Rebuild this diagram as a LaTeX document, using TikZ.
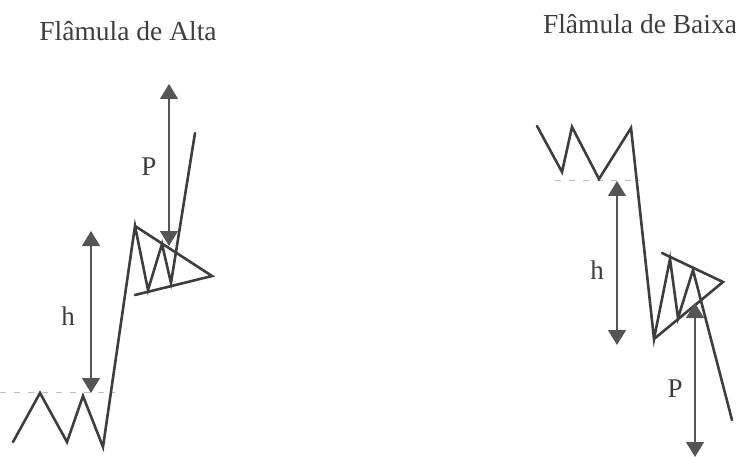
\documentclass[tikz,border=0pt]{standalone}
\usepackage{fontspec}
\setmainfont{Liberation Serif}
\usetikzlibrary{arrows.meta}
\definecolor{ink}{HTML}{3E3E3E}
\definecolor{arr}{HTML}{555555}
\definecolor{dash}{HTML}{B8BEC4}
\tikzset{
  price/.style={draw=ink,line width=2.6pt,line join=miter,line cap=round},
  meas/.style={draw=arr,line width=1.3pt,{Triangle[length=15pt,width=18pt]}-{Triangle[length=15pt,width=18pt]}},
  refline/.style={draw=dash,line width=1pt,dash pattern=on 6pt off 8pt},
  lbl/.style={text=ink,font=\fontsize{27}{30}\selectfont,inner sep=0pt},
  ttl/.style={text=ink,font=\fontsize{27.5}{30}\selectfont,inner sep=0pt}
}
\begin{document}
\begin{tikzpicture}[x=1pt,y=-1pt]
\useasboundingbox (0,0) rectangle (736,457);
% titles
\node[ttl] (t1) at (128,31) {Flâmula de Alta};
\node[ttl] (t2) at (640,24) {Flâmula de Baixa};
% ---------- left: Flâmula de Alta ----------
\draw[refline] (0,392) -- (115,392);
\coordinate (a1) at (13,442);
\coordinate (a2) at (40,393);
\coordinate (a3) at (67,442);
\coordinate (a4) at (83,396);
\coordinate (a5) at (103,447);
\coordinate (a6) at (135,226);
\coordinate (a7) at (148,290);
\coordinate (a8) at (162,244);
\coordinate (a9) at (171,283);
\coordinate (a10) at (195,133);
\coordinate (ta) at (212,276);
\coordinate (tb) at (135,295);
\draw[price] (a1) -- (a2) -- (a3) -- (a4) -- (a5) -- (a6) -- (a7) -- (a8) -- (a9) -- (a10);
\draw[price] (a6) -- (ta) -- (tb);
\coordinate (h1t) at (91,231);
\coordinate (h1b) at (91,393);
\draw[meas] (h1t) -- (h1b);
\node[lbl] (hL) at (68,316) {h};
\coordinate (p1t) at (169,84);
\coordinate (p1b) at (169,246);
\draw[meas] (p1t) -- (p1b);
\node[lbl] (pL) at (149,167) {P};
% ---------- right: Flâmula de Baixa ----------
\draw[refline] (555,181) -- (640,181);
\coordinate (b1) at (537,126);
\coordinate (b2) at (562,172);
\coordinate (b3) at (572,127);
\coordinate (b4) at (599,179);
\coordinate (b5) at (631,128);
\coordinate (b6) at (654,339);
\coordinate (b7) at (670,259);
\coordinate (b8) at (678,318);
\coordinate (b9) at (693,270);
\coordinate (b10) at (732,420);
\coordinate (tc) at (662,253);
\coordinate (td) at (723,282);
\draw[price] (b1) -- (b2) -- (b3) -- (b4) -- (b5) -- (b6) -- (b7) -- (b8) -- (b9) -- (b10);
\draw[price] (tc) -- (td) -- (b6);
\coordinate (h2t) at (617,181);
\coordinate (h2b) at (617,345);
\draw[meas] (h2t) -- (h2b);
\node[lbl] (hR) at (597,270) {h};
\coordinate (p2t) at (695,303);
\coordinate (p2b) at (695,457);
\draw[meas] (p2t) -- (p2b);
\node[lbl] (pR) at (675,389) {P};
\end{tikzpicture}
\end{document}
